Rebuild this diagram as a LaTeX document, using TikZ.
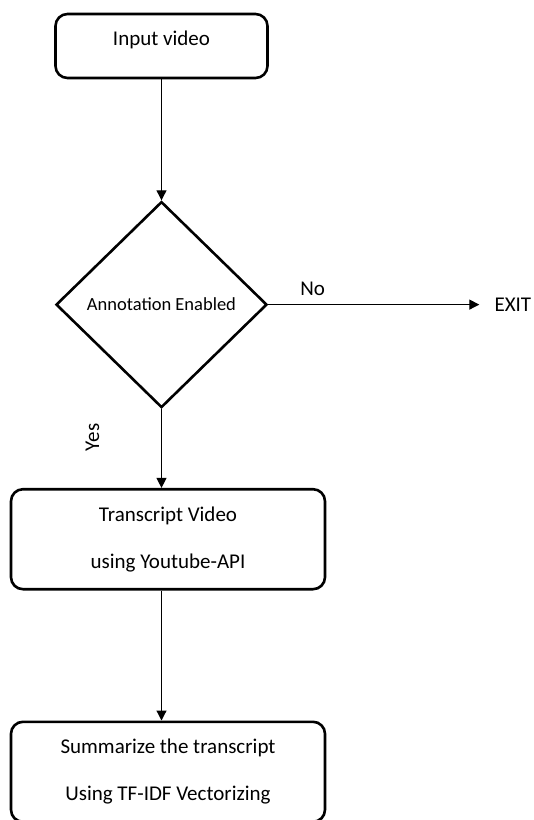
\documentclass[tikz,border=0pt]{standalone}
\usepackage{fontspec}
\setmainfont{Carlito}
\usetikzlibrary{shapes.geometric, arrows.meta, positioning}

\begin{document}
\begin{tikzpicture}[
    flowbox/.style={rectangle, rounded corners=12pt, draw, line width=2.6pt, minimum width=314pt, minimum height=100pt, align=center, font=\fontsize{21pt}{47pt}\selectfont},
    startbox/.style={flowbox, minimum width=212pt, minimum height=64pt, text height=12pt, text depth=14pt},
    decision/.style={diamond, draw, line width=2.6pt, minimum width=211pt, minimum height=206pt, inner sep=0pt, font=\fontsize{18.5pt}{22pt}\selectfont},
    plainlabel/.style={inner sep=0pt, font=\fontsize{21pt}{25pt}\selectfont},
    arrow/.style={-{Triangle[length=10pt,width=10pt]}, line width=1.2pt},
    node distance=121pt
]
    \useasboundingbox (0,0) rectangle (534pt,-820pt);

    % Start
    \node[startbox] (input) at (161.5pt,-46pt) {Input video};

    % Decision
    \node[decision, below=121pt of input] (annot) {Annotation Enabled};
    \node[plainlabel, inner xsep=15pt, right=211pt of annot] (exit) {EXIT};

    % Processing steps
    \node[flowbox, below=79pt of annot, xshift=6.5pt] (trans) {Transcript Video\\using Youtube-API};
    \node[flowbox, below=130pt of trans] (summ) {Summarize the transcript\\Using TF-IDF Vectorizing};

    % Arrows
    \draw[arrow] (input) -- (annot);
    \draw[arrow] (annot) -- node[plainlabel, pos=0.21, above=8pt] (no) {No} (exit);
    \draw[arrow] (annot.south) -- node[plainlabel, pos=0.36, xshift=-69pt, rotate=90] (yes) {Yes} (annot.south |- trans.north);
    \draw[arrow] (annot.south |- trans.south) -- (annot.south |- summ.north);

\end{tikzpicture}
\end{document}
